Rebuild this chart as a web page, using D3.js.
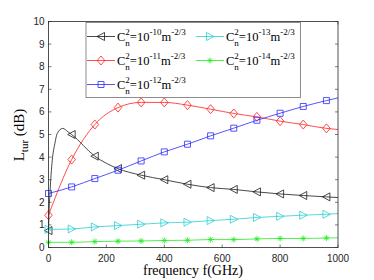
<!DOCTYPE html>
<html>
<head>
<meta charset="utf-8">
<script src="https://cdn.jsdelivr.net/npm/d3@7"></script>
<style>
  body { margin: 0; background: #fff; }
  svg { display: block; }
</style>
</head>
<body>
<svg id="chart" width="374" height="280"></svg>
<script>
// frequencies (GHz) where the curves are sampled; markers at every one except the last
const freq = [0, 80, 160, 240, 320, 400, 480, 560, 640, 720, 800, 880, 960, 1000];

// L_tur (dB) per C_n^2
const black = [0.75, 5.0, 4.04, 3.49, 3.2, 3.0, 2.8, 2.65, 2.57, 2.46, 2.37, 2.3, 2.24, 2.21];
const red   = [1.43, 3.89, 5.44, 6.19, 6.42, 6.42, 6.3, 6.12, 5.93, 5.78, 5.59, 5.44, 5.27, 5.22];
const blue  = [2.39, 2.68, 3.05, 3.42, 3.83, 4.23, 4.57, 4.94, 5.28, 5.63, 5.94, 6.24, 6.5, 6.62];
const cyan  = [0.8, 0.82, 0.91, 0.97, 1.03, 1.09, 1.12, 1.19, 1.25, 1.33, 1.38, 1.43, 1.47, 1.5];
const green = [0.23, 0.23, 0.26, 0.28, 0.29, 0.31, 0.32, 0.35, 0.35, 0.38, 0.4, 0.4, 0.42, 0.43];

// extra samples for the steep rise of the 1e-10 curve
const blackRiseFreq = [2, 5, 13, 22, 30, 49, 68];
const blackRiseVal  = [1.6, 2.4, 3.86, 4.6, 5.04, 5.27, 5.11];

const xTicks = [0, 200, 400, 600, 800, 1000];
const yTicks = [0, 1, 2, 3, 4, 5, 6, 7, 8, 9, 10];

const series = [
    { exp: '-10', vals: black, color: '#1a1a1a', marker: 'triL' },
    { exp: '-11', vals: red,   color: '#ff2020', marker: 'diamond' },
    { exp: '-12', vals: blue,  color: '#2a2aff', marker: 'square' },
    { exp: '-13', vals: cyan,  color: '#2ccfcf', marker: 'triR' },
    { exp: '-14', vals: green, color: '#22ee22', marker: 'star' }
];

const svg = d3.select('#chart');
const x = d3.scaleLinear().domain([0, 1000]).range([48.5, 338]);
const y = d3.scaleLinear().domain([0, 10]).range([247.5, 21.5]);

const axisColor = '#262626';

// ticks (inside, all four sides)
const g = svg.append('g');
xTicks.forEach(t => {
    g.append('line').attr('x1', x(t)).attr('x2', x(t)).attr('y1', y(0)).attr('y2', y(0) - 3)
        .attr('stroke', axisColor).attr('stroke-width', 0.6);
    g.append('line').attr('x1', x(t)).attr('x2', x(t)).attr('y1', y(10)).attr('y2', y(10) + 3)
        .attr('stroke', axisColor).attr('stroke-width', 0.6);
    g.append('text').attr('x', x(t)).attr('y', 261.5).attr('text-anchor', 'middle')
        .attr('font-family', 'Liberation Sans, Arial, sans-serif').attr('font-size', 10)
        .attr('fill', axisColor).text(t);
});
yTicks.forEach(t => {
    g.append('line').attr('x1', x(0)).attr('x2', x(0) + 3).attr('y1', y(t)).attr('y2', y(t))
        .attr('stroke', axisColor).attr('stroke-width', 0.6);
    g.append('line').attr('x1', x(1000)).attr('x2', x(1000) - 3).attr('y1', y(t)).attr('y2', y(t))
        .attr('stroke', axisColor).attr('stroke-width', 0.6);
    g.append('text').attr('x', 44.5).attr('y', y(t) + 3.5).attr('text-anchor', 'end')
        .attr('font-family', 'Liberation Sans, Arial, sans-serif').attr('font-size', 10)
        .attr('fill', axisColor).text(t);
});

// marker shapes
function markerPath(type, cx, cy) {
    switch (type) {
    case 'triL': return `M${cx - 4},${cy}L${cx + 3.5},${cy - 4}L${cx + 3.5},${cy + 4}Z`;
    case 'triR': return `M${cx + 4},${cy}L${cx - 3.5},${cy - 4}L${cx - 3.5},${cy + 4}Z`;
    case 'diamond': return `M${cx},${cy - 4.5}L${cx + 3.8},${cy}L${cx},${cy + 4.5}L${cx - 3.8},${cy}Z`;
    case 'square': return `M${cx - 3},${cy - 3}h6v6h-6Z`;
    case 'star': return `M${cx - 3},${cy}h6M${cx},${cy - 3}v6M${cx - 2.2},${cy - 2.2}l4.4,4.4M${cx - 2.2},${cy + 2.2}l4.4,-4.4`;
    }
}

const line = d3.line().x(d => x(d[0])).y(d => y(d[1])).curve(d3.curveMonotoneX);

const plot = svg.append('g');
series.forEach((s, i) => {
    let pts = freq.map((f, j) => [f, s.vals[j]]);
    if (i === 0) {
        const rise = blackRiseFreq.map((f, j) => [f, blackRiseVal[j]]);
        pts = [pts[0], ...rise, ...pts.slice(1)];
    }
    plot.append('path').attr('d', line(pts)).attr('fill', 'none')
        .attr('stroke', s.color).attr('stroke-width', 0.8);
    plot.selectAll(null).data(freq.slice(0, -1).map((f, j) => [f, s.vals[j]]))
        .join('path')
        .attr('d', d => markerPath(s.marker, x(d[0]), y(d[1])))
        .attr('fill', 'none').attr('stroke', s.color).attr('stroke-width', 0.8);
});

// box
svg.append('rect').attr('x', x(0)).attr('y', y(10)).attr('width', x(1000) - x(0)).attr('height', y(0) - y(10))
    .attr('fill', 'none').attr('stroke', axisColor).attr('stroke-width', 0.8);

// legend
const leg = svg.append('g');
leg.append('rect').attr('x', 86).attr('y', 22.5).attr('width', 214.5).attr('height', 75)
    .attr('fill', '#fff').attr('stroke', '#8c8c8c').attr('stroke-width', 1);
const legPos = [
    { lx: 87, rows: 36.5 }, { lx: 87, rows: 60.5 }, { lx: 87, rows: 84.5 },
    { lx: 196, rows: 36.5 }, { lx: 196, rows: 60.5 }
];
series.forEach((s, i) => {
    const p = legPos[i];
    leg.append('line').attr('x1', p.lx).attr('x2', p.lx + 28).attr('y1', p.rows).attr('y2', p.rows)
        .attr('stroke', s.color).attr('stroke-width', 0.8);
    leg.append('path').attr('d', markerPath(s.marker, p.lx + 14, p.rows))
        .attr('fill', 'none').attr('stroke', s.color).attr('stroke-width', 0.8);
    const t = leg.append('text').attr('x', p.lx + 30).attr('y', p.rows + 4)
        .attr('font-family', 'Liberation Serif, Times New Roman, serif').attr('font-size', 12.5)
        .attr('fill', '#000');
    t.append('tspan').text('C');
    t.append('tspan').attr('font-size', 9).attr('dy', -5.5).text('2');
    t.append('tspan').attr('font-size', 9).attr('dx', -4.5).attr('dy', 10.5).text('n');
    t.append('tspan').attr('dy', -5).text('=10');
    t.append('tspan').attr('font-size', 9).attr('dy', -5.5).text(s.exp);
    t.append('tspan').attr('dy', 5.5).text('m');
    t.append('tspan').attr('font-size', 9).attr('dy', -5.5).text('-2/3');
});

// axis labels
svg.append('text').attr('x', 193).attr('y', 275).attr('text-anchor', 'middle')
    .attr('font-family', 'Liberation Serif, Times New Roman, serif').attr('font-size', 14)
    .attr('fill', '#000').text('frequency f(GHz)');

const yl = svg.append('text').attr('transform', 'translate(24,135) rotate(-90)').attr('text-anchor', 'middle')
    .attr('font-family', 'Liberation Serif, Times New Roman, serif').attr('font-size', 15).attr('fill', '#000');
yl.append('tspan').text('L');
yl.append('tspan').attr('font-size', 11).attr('dy', 4).text('tur');
yl.append('tspan').attr('dy', -4).text(' (dB)');
</script>
</body>
</html>
